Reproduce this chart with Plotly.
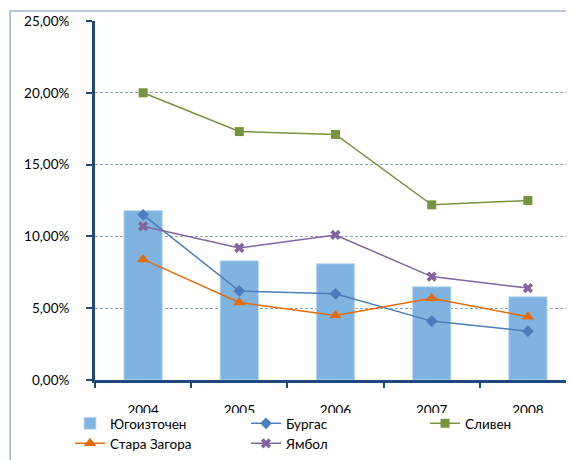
import plotly.graph_objects as go

years = ["2004", "2005", "2006", "2007", "2008"]
yugoiztochen = [0.118, 0.083, 0.081, 0.065, 0.058]
burgas = [0.115, 0.062, 0.060, 0.041, 0.034]
sliven = [0.200, 0.173, 0.171, 0.122, 0.125]
stara_zagora = [0.084, 0.054, 0.045, 0.057, 0.044]
yambol = [0.107, 0.092, 0.101, 0.072, 0.064]

FONT = "Lato"
FS = 13.5

fig = go.Figure()
fig.add_trace(go.Bar(x=years, y=yugoiztochen, name="Югоизточен", width=0.4,
                     marker=dict(color="#7EB4DF", line=dict(color="#C6DDF1", width=1)),
                     legend="legend"))
fig.add_trace(go.Scatter(x=years, y=burgas, name="Бургас", mode="lines+markers",
                         line=dict(color="#4A7EBB", width=1.5),
                         marker=dict(symbol="diamond", size=9, color="#4A7EBB"),
                         legend="legend2"))
fig.add_trace(go.Scatter(x=years, y=sliven, name="Сливен", mode="lines+markers",
                         line=dict(color="#77933C", width=1.5),
                         marker=dict(symbol="square", size=9, color="#77933C"),
                         legend="legend3"))
fig.add_trace(go.Scatter(x=years, y=stara_zagora, name="Стара Загора", mode="lines+markers",
                         line=dict(color="#E46C0A", width=1.5),
                         marker=dict(symbol="triangle-up", size=11, color="#E46C0A"),
                         legend="legend4"))
fig.add_trace(go.Scatter(x=years, y=yambol, name="Ямбол", mode="lines+markers",
                         line=dict(color="#8064A2", width=1.5),
                         marker=dict(symbol="x", size=9, color="#8064A2"),
                         legend="legend5"))

axis_color = "#1F497D"
grid_color = "#8EA4C8"


def leg(xpx, ypx):
    return dict(orientation="h", xref="container", yref="container",
                x=xpx / 574, y=1 - ypx / 460, visible=True,
                xanchor="left", yanchor="top", bgcolor="rgba(0,0,0,0)",
                font=dict(family=FONT, size=FS, color="black"),
                itemclick=False, itemdoubleclick=False)


row1 = 400
row2 = 420
fig.update_layout(
    width=574, height=460,
    margin=dict(l=87, r=5.5, t=13, b=88, autoexpand=False),
    paper_bgcolor="white", plot_bgcolor="white",
    separators=",.",
    showlegend=True,
    font=dict(family=FONT, size=FS, color="black"),
    legend=leg(62, row1),
    legend2=leg(238, row1),
    legend3=leg(417, row1),
    legend4=leg(62, row2),
    legend5=leg(238, row2),
    xaxis=dict(type="category", range=[-0.5, 4.5], showline=True,
               linecolor=axis_color, linewidth=3, ticks="outside",
               tickson="boundaries", ticklen=5, tickwidth=2, tickcolor=axis_color,
               showgrid=False, automargin=False, ticklabelstandoff=16,
               tickfont=dict(family=FONT, size=FS, color="black")),
    yaxis=dict(range=[0, 0.25], dtick=0.05, tickformat=".2%", showline=True,
               linecolor=axis_color, linewidth=3, ticks="outside", ticklen=6,
               tickwidth=2, tickcolor=axis_color, showgrid=True,
               gridcolor=grid_color, gridwidth=1, griddash="3px,2px",
               zeroline=False, automargin=False, ticklabelstandoff=14,
               tickfont=dict(family=FONT, size=FS, color="black")),
    shapes=[
        dict(type="rect", xref="paper", yref="paper",
             x0=(10 - 95) / 481.5, x1=1.05, y0=-0.4, y1=1 + 10 / 359,
             line=dict(color="#9DB3D0", width=1.5), fillcolor="rgba(0,0,0,0)",
             layer="below"),
        dict(type="rect", xref="paper", yref="paper",
             x0=0.05, x1=1.0, y0=-(455 - 380) / 359, y1=-(413 - 380) / 359,
             line=dict(width=0), fillcolor="white", layer="above"),
    ],
)

fig.write_html("out.html")
